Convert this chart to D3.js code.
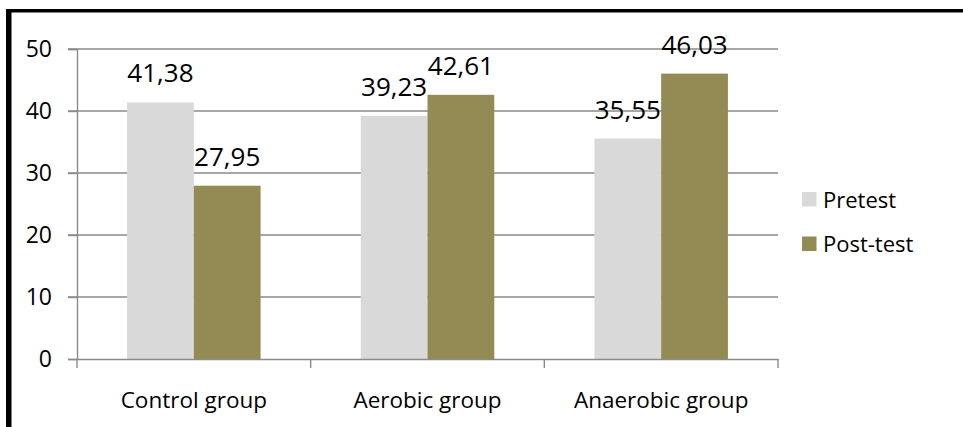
<!DOCTYPE html>
<html>
<head>
<meta charset="utf-8">
<script src="https://cdn.jsdelivr.net/npm/d3@7"></script>
<style>
  html, body { margin: 0; padding: 0; background: #fff; }
  svg { display: block; font-family: "Open Sans", sans-serif; }
</style>
</head>
<body>
<svg id="chart" width="963" height="427"></svg>
<script>
// Chart data
const categories = ["Control group", "Aerobic group", "Anaerobic group"];
const seriesNames = ["Pretest", "Post-test"];
const pretest = [41.38, 39.23, 35.55];
const posttest = [27.95, 42.61, 46.03];
const yTicks = [0, 10, 20, 30, 40, 50];
const colors = ["#d9d9d9", "#948a54"];

const svg = d3.select("#chart");
const W = 963, H = 427;
const plot = { left: 77, right: 778, top: 49, bottom: 359 };

// Frame (left and top edges visible)
svg.append("rect").attr("x", 6).attr("y", 9).attr("width", 5.5).attr("height", H - 9).attr("fill", "#000");
svg.append("rect").attr("x", 6).attr("y", 9).attr("width", W - 6).attr("height", 3.5).attr("fill", "#000");

const x0 = d3.scaleBand().domain(categories).range([plot.left, plot.right]).paddingInner(0).paddingOuter(0);
const x1 = d3.scaleBand().domain(seriesNames).range([0, x0.bandwidth()]).paddingInner(0).paddingOuter(0.75);
const y = d3.scaleLinear().domain([0, 50]).range([plot.bottom, plot.top]);

// Gridlines
svg.append("g").selectAll("line").data(yTicks.filter(d => d > 0)).join("line")
  .attr("x1", plot.left - 9).attr("x2", plot.right)
  .attr("y1", d => y(d)).attr("y2", d => y(d))
  .attr("stroke", "#8a8a8a").attr("stroke-width", 1.4);

// Y axis
const yAxis = svg.append("g").attr("transform", `translate(${plot.left},0)`)
  .call(d3.axisLeft(y).tickValues(yTicks).tickSize(9).tickPadding(16).tickFormat(d3.format("d")));
yAxis.select(".domain").attr("stroke", "#8a8a8a").attr("stroke-width", 1.4);
yAxis.selectAll(".tick line").attr("stroke", "#8a8a8a").attr("stroke-width", 1.4);
yAxis.selectAll("text").attr("font-size", 23).attr("fill", "#000").attr("font-family", "Open Sans");

// Bars
const rows = categories.map((c, i) => ({ cat: c, vals: [pretest[i], posttest[i]] }));
const groups = svg.append("g").selectAll("g").data(rows).join("g")
  .attr("transform", d => `translate(${x0(d.cat)},0)`);
groups.selectAll("rect").data(d => d.vals.map((v, j) => ({ name: seriesNames[j], v, j }))).join("rect")
  .attr("x", d => x1(d.name)).attr("width", x1.bandwidth())
  .attr("y", d => y(d.v)).attr("height", d => y(0) - y(d.v))
  .attr("fill", d => colors[d.j]);

// Value labels
groups.selectAll("text").data(d => d.vals.map((v, j) => ({ name: seriesNames[j], v, j }))).join("text")
  .attr("x", d => x1(d.name) + x1.bandwidth() / 2)
  .attr("y", d => y(d.v) - 20)
  .attr("text-anchor", "middle")
  .attr("font-size", 26).attr("fill", "#000")
  .text(d => d.v.toFixed(2).replace(".", ","));

// X axis
const xAxis = svg.append("g").attr("transform", `translate(0,${plot.bottom})`)
  .call(d3.axisBottom(x0).tickSize(0).tickPadding(33));
xAxis.select(".domain").attr("stroke", "#8a8a8a").attr("stroke-width", 1.4);
xAxis.selectAll("text").attr("font-size", 22.5).attr("fill", "#000").attr("font-family", "Open Sans");
// Category separators
svg.append("g").selectAll("line").data(d3.range(categories.length + 1)).join("line")
  .attr("x1", i => plot.left + i * x0.bandwidth()).attr("x2", i => plot.left + i * x0.bandwidth())
  .attr("y1", plot.bottom).attr("y2", plot.bottom + 9)
  .attr("stroke", "#8a8a8a").attr("stroke-width", 1.4);

// Legend
const legend = svg.append("g").selectAll("g").data(seriesNames).join("g")
  .attr("transform", (d, i) => `translate(802,${192 + i * 44.5})`);
legend.append("rect").attr("width", 14.5).attr("height", 14.5).attr("fill", (d, i) => colors[i]);
legend.append("text").attr("x", 21).attr("y", 15.5).attr("font-size", 22).attr("fill", "#000").text(d => d);
</script>
</body>
</html>
